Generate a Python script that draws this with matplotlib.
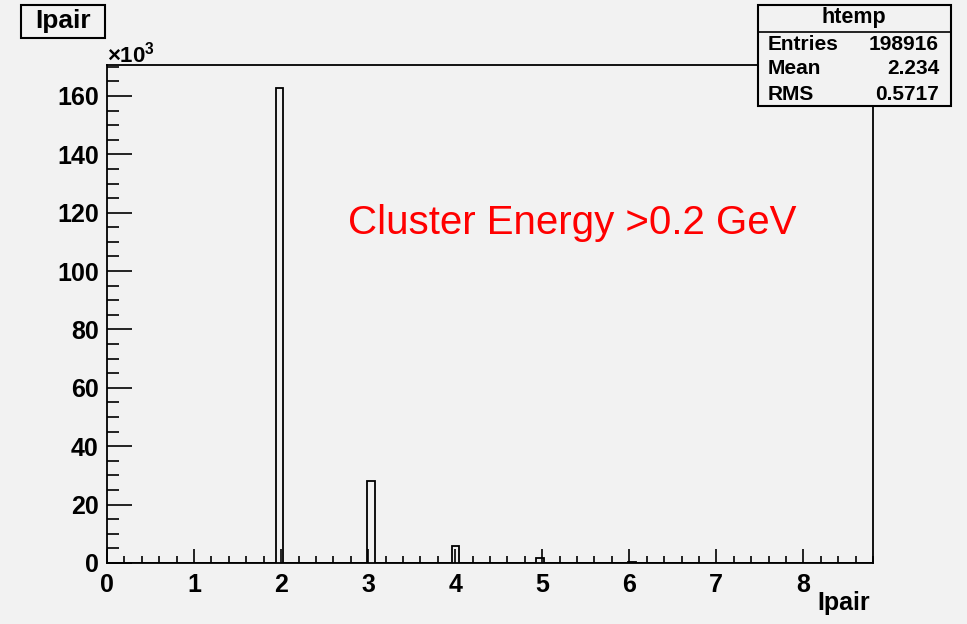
import numpy as np
import matplotlib
matplotlib.use("Agg")
import matplotlib.pyplot as plt
from matplotlib.ticker import MultipleLocator, FuncFormatter
from matplotlib.patches import Rectangle

plt.rcParams['font.family'] = ['Liberation Sans', 'DejaVu Sans']
plt.rcParams['mathtext.fontset'] = 'custom'
plt.rcParams['mathtext.bf'] = 'Liberation Sans:bold'
plt.rcParams['mathtext.rm'] = 'Liberation Sans:bold'

# histogram content (Ipair values and counts)
ipair = [2, 3, 4, 5, 6]
counts = [162600, 28000, 5800, 1800, 500]
n_bins = 100
x_max = 8.8
stat_names = ["Entries", "Mean", "RMS"]
stat_values = ["198916", "2.234", "0.5717"]

bg = "#f2f2f2"
fig = plt.figure(figsize=(9.67, 6.24), dpi=100, facecolor=bg)
ax = fig.add_axes([107/967, 1-563/624, (873-107)/967, (563-65)/624])
ax.set_facecolor(bg)

edges = np.linspace(0, x_max, n_bins + 1)
ax.hist(ipair, bins=edges, weights=counts, histtype='step', color='black', lw=1.3)

ax.set_xlim(0, x_max)
ax.set_ylim(0, 170600)

ax.xaxis.set_major_locator(MultipleLocator(1))
ax.xaxis.set_minor_locator(MultipleLocator(0.2))
ax.yaxis.set_major_locator(MultipleLocator(20000))
ax.yaxis.set_minor_locator(MultipleLocator(5000))
ax.yaxis.set_major_formatter(FuncFormatter(lambda v, p: "%d" % round(v / 1000)))

ax.tick_params(axis='both', which='both', direction='in', color='black', width=1.2)
ax.tick_params(axis='x', which='major', length=10, pad=7)
ax.tick_params(axis='x', which='minor', length=5)
ax.tick_params(axis='y', which='major', length=18, pad=6)
ax.tick_params(axis='y', which='minor', length=8.5)
for lab in ax.get_xticklabels() + ax.get_yticklabels():
    lab.set_fontsize(18)
    lab.set_fontweight('bold')
for s in ax.spines.values():
    s.set_linewidth(1.3)

fig.text(107/967, 1-62/624, r'$\mathbf{\times10^{3}}$', fontsize=16, ha='left', va='baseline')
fig.text(870/967, 1-603/624, "Ipair", fontsize=18, fontweight='bold', ha='right', va='center')

ax.text(5.34, 112700, "Cluster Energy >0.2 GeV", color='red', fontsize=29,
        ha='center', va='baseline')

# title box
fig.patches.append(Rectangle((21/967, 1-38/624), 84/967, 33/624, transform=fig.transFigure,
                             facecolor=bg, edgecolor='black', lw=1.5))
fig.text(63/967, 1-21/624, "Ipair", fontsize=19, fontweight='bold', ha='center', va='center')

# stats box
fig.patches.append(Rectangle((758/967, 1-106/624), 193/967, 101/624, transform=fig.transFigure,
                             facecolor=bg, edgecolor='black', lw=1.5))
fig.lines.append(plt.Line2D([758/967, 951/967], [1-32/624, 1-32/624], transform=fig.transFigure,
                            color='black', lw=1.2))
fig.text(854/967, 1-18/624, "htemp", fontsize=15.5, fontweight='bold', ha='center', va='center')
for i, (nm, val) in enumerate(zip(stat_names, stat_values)):
    y = 1 - (44 + 25 * i) / 624
    fig.text(768/967, y, nm, fontsize=15, fontweight='bold', ha='left', va='center')
    fig.text(939/967, y, val, fontsize=15, fontweight='bold', ha='right', va='center')

fig.savefig("out.png", dpi=100, facecolor=bg)
